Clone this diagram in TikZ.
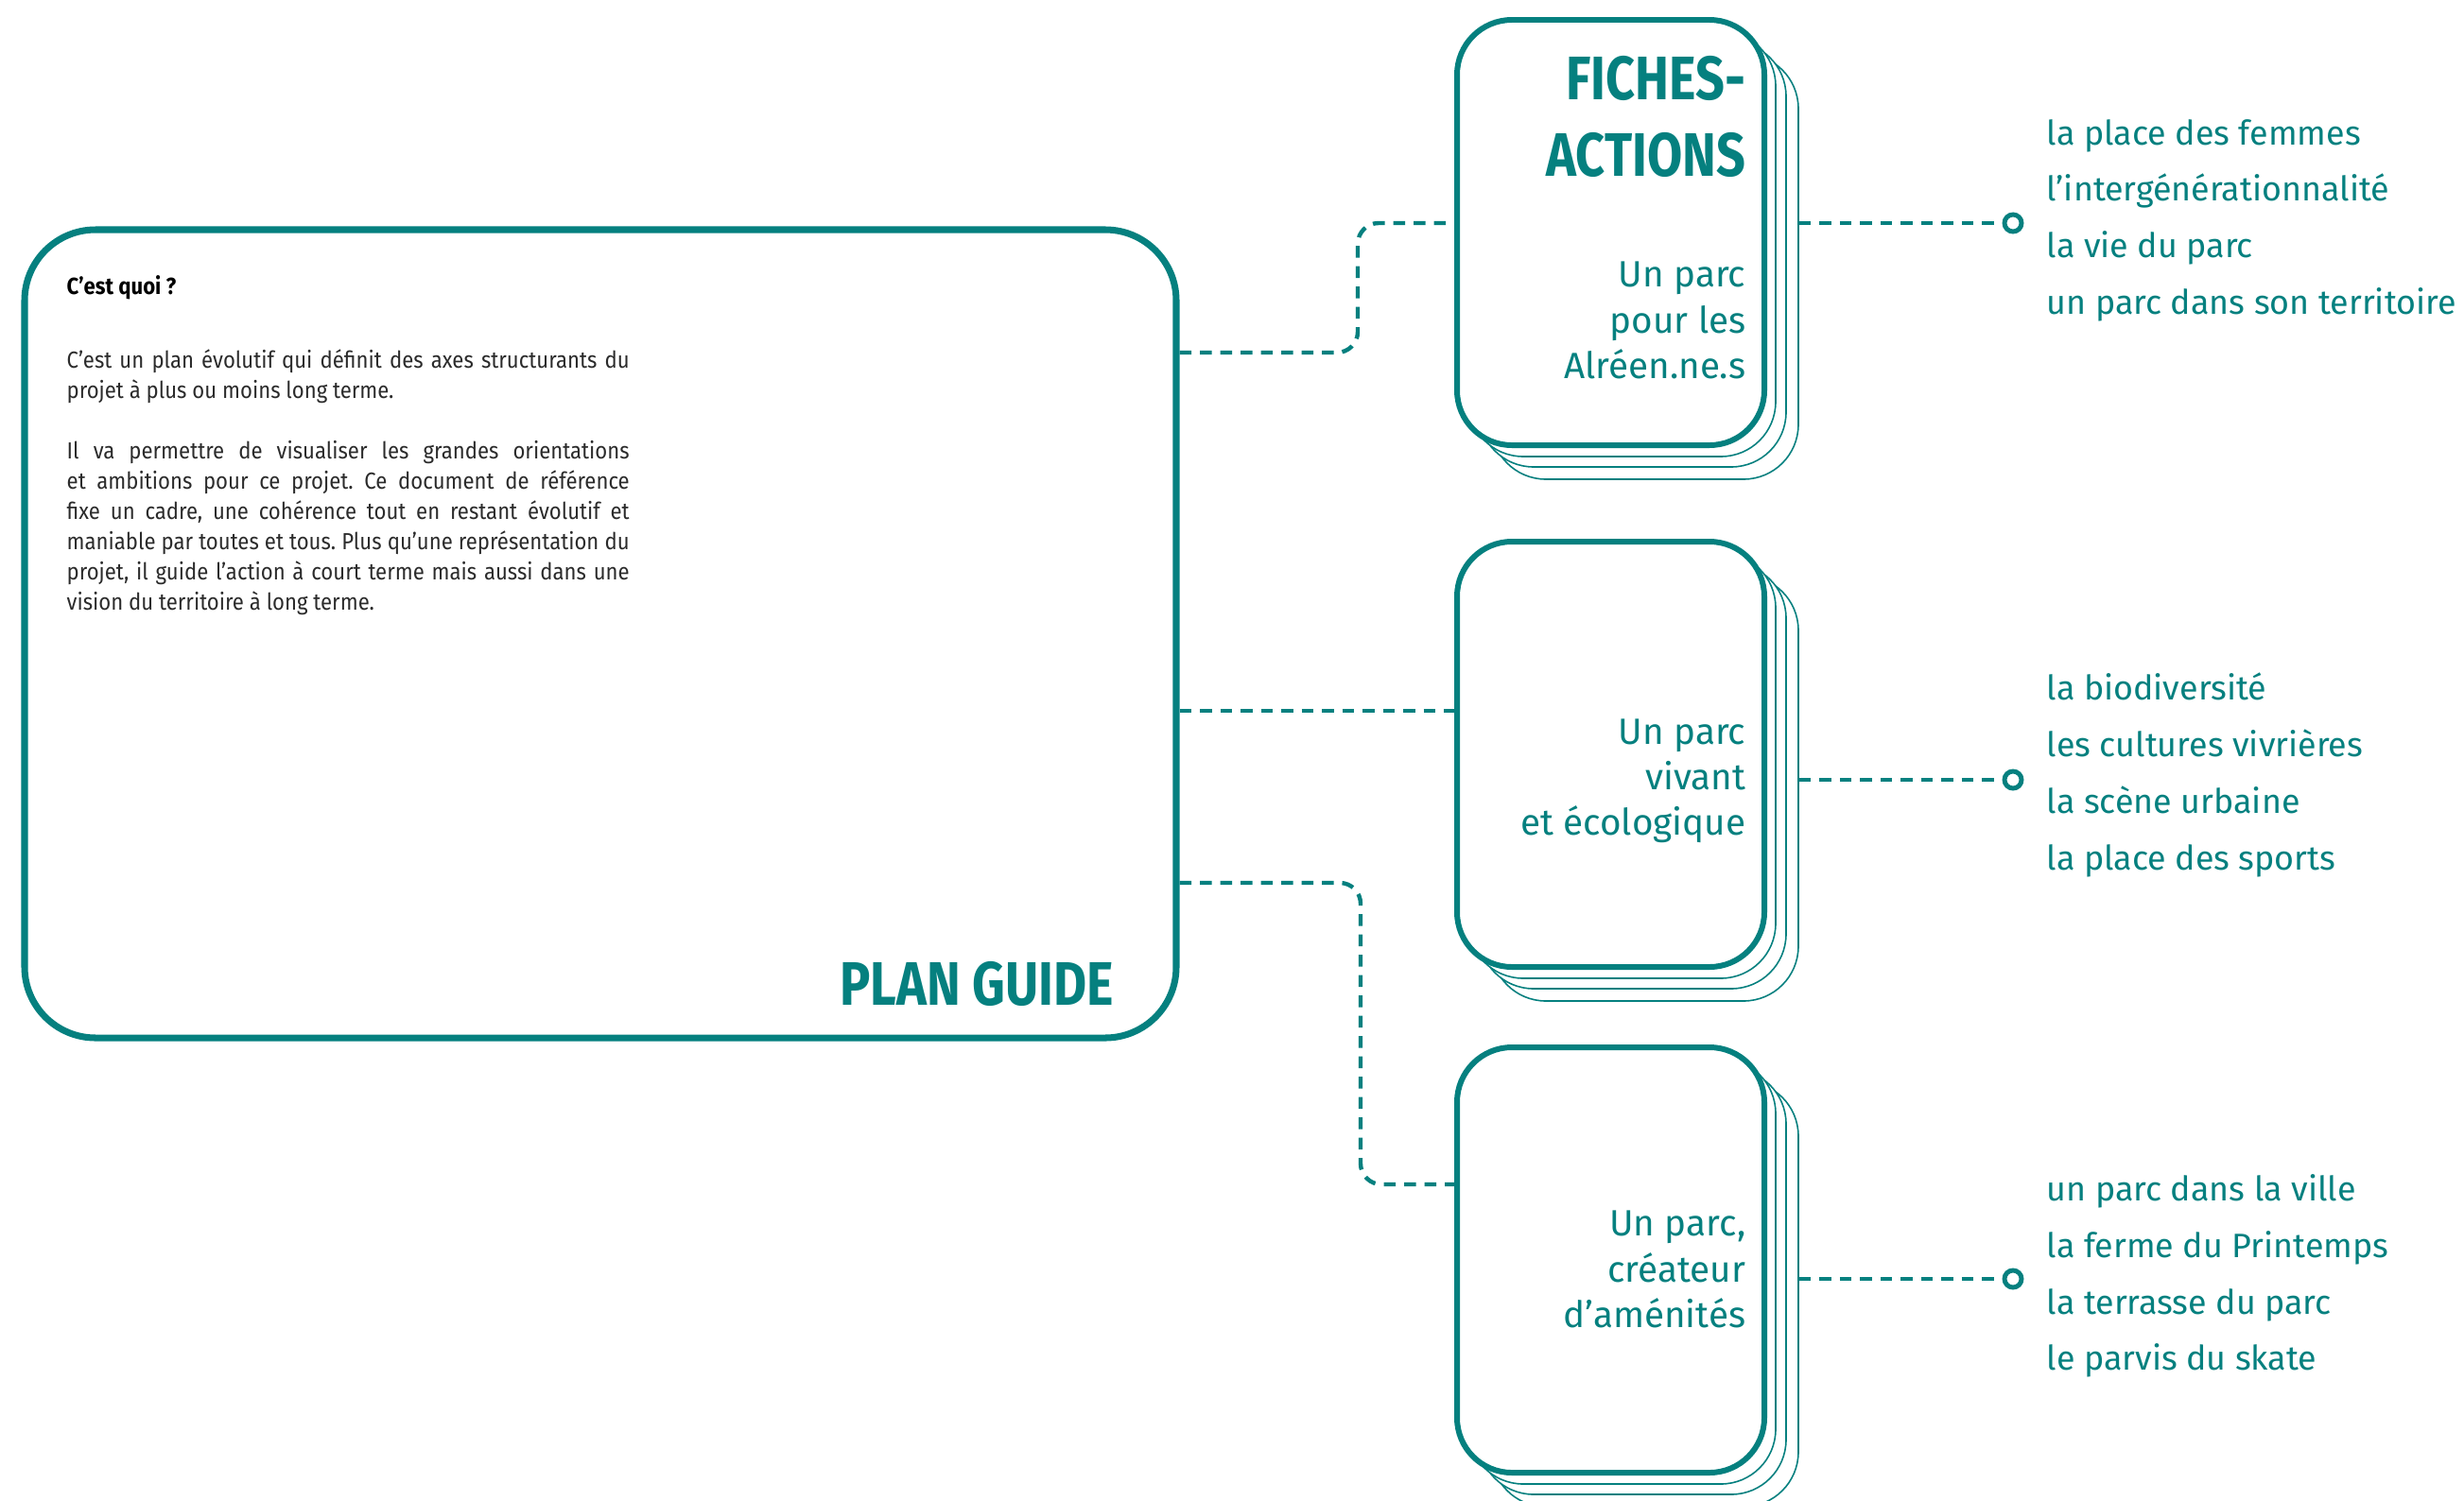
\documentclass[tikz,border=0pt]{standalone}
\usepackage{fontspec}
\setmainfont{Fira Sans}
\newfontfamily\brushfont{Fira Sans}[FakeStretch=0.83]
\newfontfamily\bodyfont{Fira Sans}[FakeStretch=0.9]
\definecolor{parcteal}{HTML}{05807F}
\definecolor{bodygray}{HTML}{2B2B2B}
\begin{document}
\begin{tikzpicture}
\tikzset{ bigbox/.style={draw=parcteal, line width=2pt, rounded corners=0.75cm, fill=white, minimum width=12.18cm, minimum height=8.55cm},
  card/.style={draw=parcteal, line width=1.7pt, rounded corners=0.58cm, fill=white, minimum width=3.25cm, minimum height=4.5cm},
  sheet/.style={card, line width=0.45pt},
  link/.style={draw=parcteal, line width=1.25pt, dash pattern=on 0.125cm off 0.09cm, rounded corners=0.22cm},
  endpt/.style={draw=parcteal, circle, fill=white, line width=1.4pt, minimum size=0.18cm, inner sep=0pt},
  cardtext/.style={text=parcteal, align=right, font=\fontsize{11}{13.7}\selectfont, inner sep=0pt},
  listtext/.style={text=parcteal, align=left, font=\fontsize{10.2}{17}\selectfont, inner sep=0pt},
  brushtitle/.style={text=parcteal, align=right, font=\brushfont\bfseries\fontsize{18.5}{23}\selectfont, inner sep=0pt},
  bodytext/.style={text=bodygray, text width=5.95cm, align=justify, font=\bodyfont\fontsize{7}{9.1}\selectfont, inner sep=0pt},
}

\useasboundingbox (0,0) rectangle (26.06,-15.87);

\node [bigbox] (plan) at (6.35,-6.705) {};

\foreach \n/\y in {1/-2.46, 2/-7.98, 3/-13.33} {
  \foreach \k/\d in {3/0.36, 2/0.23, 1/0.12}
    \node [sheet] (card\n-\k) at (17.035+\d,\y-\d) {};
  \node [card] (card\n) at (17.035,\y) {};
}

\node [brushtitle, anchor=east] (fiches) at (18.47,-1.235) {FICHES-\\ACTIONS};
\node [brushtitle, anchor=east] (planguide) at (11.79,-10.41) {PLAN GUIDE};

\node [cardtext, anchor=east] (alreens) at (18.47,-3.39) {Un parc\\pour les\\Alréen.ne.s};
\node [cardtext, anchor=east] (vivant) at (18.47,-8.26) {Un parc\\vivant\\et écologique};
\node [cardtext, anchor=east] (amenites) at (18.47,-13.43) {Un parc,\\créateur\\d’aménités};

\node [font=\bodyfont\bfseries\fontsize{7}{9}\selectfont, text=black, anchor=west, inner sep=0pt] (quoi) at (0.70,-3.04) {C’est quoi ?};
\node [bodytext, anchor=north west] (texte) at (0.70,-3.69) {\tolerance=10000\hyphenpenalty=10000\frenchspacing
C’est un plan évolutif qui définit des axes structurants du\linebreak projet à plus ou moins long terme.\par\vspace{9.1pt}
Il va permettre de visualiser les grandes orientations\linebreak et ambitions pour ce projet. Ce document de référence\linebreak fixe un cadre, une cohérence tout en restant évolutif et\linebreak maniable par toutes et tous. Plus qu’une représentation du\linebreak projet, il guide l’action à court terme mais aussi dans une\linebreak vision du territoire à long terme.};

\coordinate (bend1) at (14.36,-3.73);
\coordinate (in2) at ([yshift=0.46cm]card2.west);
\coordinate (bend3) at (14.39,-9.34);

\draw [link] (plan.east |- bend1) -- (bend1) |- ([yshift=0.10cm]card1.west);
\draw [link] (plan.east |- in2) -- (in2);
\draw [link] (plan.east |- bend3) -- (bend3) |- ([yshift=0.80cm]card3.west);

\node [endpt] (dot1) at (21.29,-2.36) {};
\node [endpt] (dot2) at (21.29,-8.25) {};
\node [endpt] (dot3) at (21.29,-13.53) {};

\draw [link] (card1-3.east |- dot1) -- (dot1);
\draw [link] (card2-3.east |- dot2) -- (dot2);
\draw [link] (card3-3.east |- dot3) -- (dot3);

\node [listtext, anchor=west] (list1) at (21.64,-2.33) {la place des femmes\\l’intergénérationnalité\\la vie du parc\\un parc dans son territoire};
\node [listtext, anchor=west] (list2) at (21.64,-8.20) {la biodiversité\\les cultures vivrières\\la scène urbaine\\la place des sports};
\node [listtext, anchor=west] (list3) at (21.64,-13.50) {un parc dans la ville\\la ferme du Printemps\\la terrasse du parc\\le parvis du skate};

\end{tikzpicture}
\end{document}
